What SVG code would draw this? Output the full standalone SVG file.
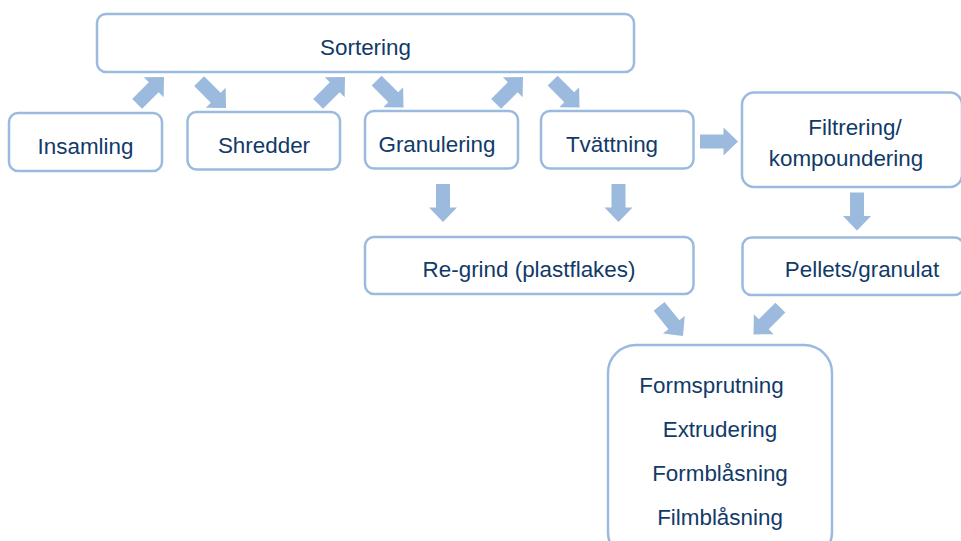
<svg xmlns="http://www.w3.org/2000/svg" width="961" height="541" viewBox="0 0 961 541">
<defs>
<style>
.box{fill:#fff;stroke:#9bbadf;stroke-width:2.5}
.t{font-family:"Liberation Sans",Arial,sans-serif;font-size:22.4px;fill:#113a68;text-anchor:middle}
.arr{fill:#9bbadd}
</style>
<path id="a" d="M-38,-7 L-14.5,-7 L-14.5,-14 L0,0 L-14.5,14 L-14.5,7 L-38,7 Z"/>
</defs>
<rect width="961" height="541" fill="#fff"/>
<g id="sortering"><rect class="box" x="97" y="14" width="537" height="58" rx="9"/><text class="t" x="365.5" y="55">Sortering</text></g>
<g id="insamling"><rect class="box" x="9" y="113" width="153" height="58" rx="9"/><text class="t" x="85.5" y="154">Insamling</text></g>
<g id="shredder"><rect class="box" x="187.5" y="112" width="152.5" height="57.5" rx="9"/><text class="t" x="264" y="153">Shredder</text></g>
<g id="granulering"><rect class="box" x="365" y="111" width="153" height="57.5" rx="9"/><text class="t" x="437" y="152">Granulering</text></g>
<g id="tvattning"><rect class="box" x="541" y="111" width="152.5" height="57.5" rx="9"/><text class="t" x="612" y="152">Tvättning</text></g>
<g id="filtrering"><rect class="box" x="742" y="92.5" width="220" height="94.5" rx="12"/><text class="t" x="855" y="135">Filtrering/</text><text class="t" x="846" y="166">kompoundering</text></g>
<g id="regrind"><rect class="box" x="365" y="237" width="328.5" height="57" rx="9"/><text class="t" x="529" y="277">Re-grind (plastflakes)</text></g>
<g id="pellets"><rect class="box" x="742.5" y="237.5" width="221" height="57.5" rx="9"/><text class="t" x="862" y="277">Pellets/granulat</text></g>
<g id="produkter"><rect class="box" x="608" y="345" width="224" height="215" rx="28"/>
<text class="t" x="711.5" y="393">Formsprutning</text>
<text class="t" x="720" y="437">Extrudering</text>
<text class="t" x="720" y="481">Formblåsning</text>
<text class="t" x="720" y="525">Filmblåsning</text></g>
<g id="connectors" class="arr">
<use href="#a" transform="translate(164,77) rotate(-45)"/>
<use href="#a" transform="translate(226,108) rotate(45)"/>
<use href="#a" transform="translate(345,77) rotate(-45)"/>
<use href="#a" transform="translate(403.5,107.5) rotate(45)"/>
<use href="#a" transform="translate(523,77) rotate(-45)"/>
<use href="#a" transform="translate(579.5,107.5) rotate(45)"/>
<use href="#a" transform="translate(738,141.5)"/>
<use href="#a" transform="translate(443,222) rotate(90)"/>
<use href="#a" transform="translate(618.5,222) rotate(90)"/>
<use href="#a" transform="translate(857,230.5) rotate(90)"/>
<use href="#a" transform="translate(683,336) rotate(51)"/>
<use href="#a" transform="translate(753.5,334.5) rotate(135)"/>
</g>
</svg>
